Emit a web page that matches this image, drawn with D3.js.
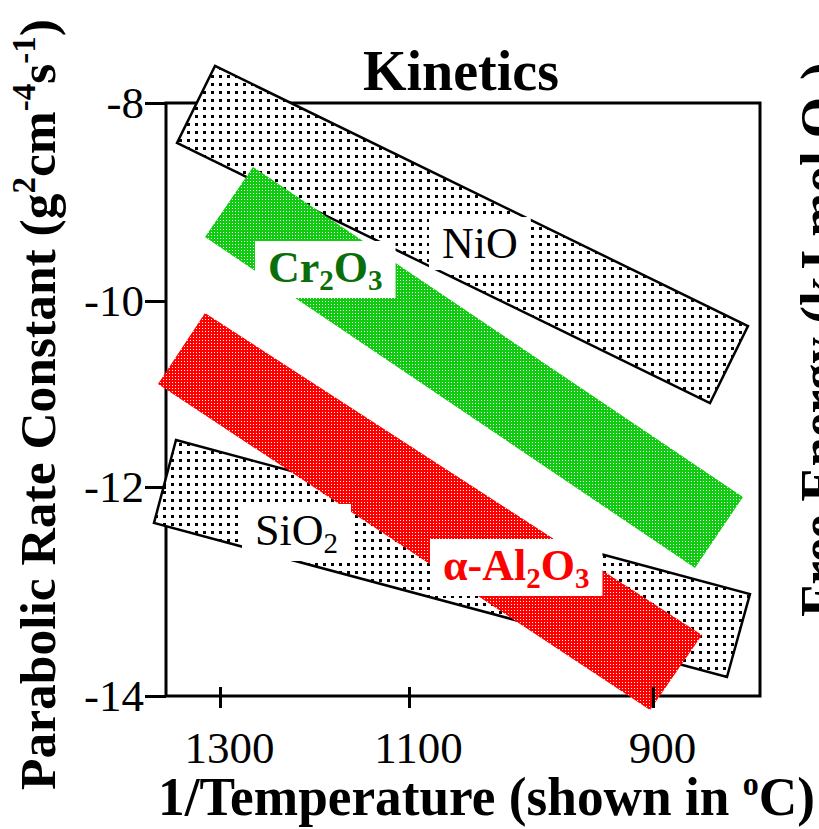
<!DOCTYPE html>
<html><head><meta charset="utf-8">
<script src="https://cdn.jsdelivr.net/npm/d3@7/dist/d3.min.js"></script>
<style>html,body{margin:0;padding:0;background:#fff;overflow:hidden}</style>
</head><body>
<svg id="chart" width="819" height="829"></svg>
<script>
// ---------- data ----------
const xTickTemps = [1300, 1100, 900];          // °C, shown on a 1/T axis
const yTicks = [-14, -12, -10, -8];            // log parabolic rate constant
// band corners: [10^4 / T(K), log kp]
const nioBand   = [[6.3328,-7.626],[9.0085,-10.269],[8.8151,-11.097],[6.1466,-8.404]];
const sio2Band  = [[6.1417,-11.495],[9.0187,-13.024],[8.9016,-13.818],[6.0339,-12.344]];
const cr2o3Band = [[6.5190,-8.646],[8.9830,-12.096],[8.7388,-12.775],[6.2838,-9.354]];
const al2o3Band = [[6.2838,-10.129],[8.7744,-13.416],[8.5098,-14.134],[6.0535,-10.892]];
const labelParts = [
  [["NiO",0]],
  [["Cr",0],["2",1],["O",0],["3",1]],
  [["SiO",0],["2",1]],
  [["α-Al",0],["2",1],["O",0],["3",1]]
];
const labelAt = [[7.4512,-9.566],[6.5925,-9.808],[6.5288,-12.555],[7.4563,-12.890]];
const labelColors = ["#000000","#0a6e0a","#000000","#ff0000"];
const labelBold = [false,true,false,true];

// ---------- setup ----------
const invT = t => 1e4 / (t + 273);
const svg = d3.select("#chart");
const FONT = "'Liberation Serif','Times New Roman',Times,serif";
const frame = {left:166, right:760};
const x = d3.scaleLinear().domain(xTickTemps.map(invT)).range([220, 409, 653]);
const y = d3.scaleLinear().domain(yTicks).range([696, 487, 301, 103]);

const defs = svg.append("defs");
const dots = defs.append("pattern").attr("id","dots").attr("patternUnits","userSpaceOnUse")
  .attr("width",8).attr("height",8);
dots.append("rect").attr("width",8).attr("height",8).attr("fill","#fff");
dots.append("rect").attr("x",3).attr("y",3).attr("width",3).attr("height",3).attr("fill","#000");
function halftone(id, color){
  const p = defs.append("pattern").attr("id",id).attr("patternUnits","userSpaceOnUse")
    .attr("width",3).attr("height",3);
  p.append("rect").attr("width",3).attr("height",3).attr("fill",color);
  p.append("rect").attr("x",1).attr("y",1).attr("width",1).attr("height",1).attr("fill","#fff");
}
halftone("greenHT","#10cc10");
halftone("redHT","#ff0000");

// frame
svg.append("rect").attr("x",frame.left).attr("y",y(-8))
  .attr("width",frame.right-frame.left).attr("height",y(-14)-y(-8))
  .attr("fill","none").attr("stroke","#000").attr("stroke-width",3);

// bands
const line = d3.line().x(d=>x(d[0])).y(d=>y(d[1])).curve(d3.curveLinearClosed);
svg.append("path").attr("d",line(nioBand)).attr("fill","url(#dots)").attr("stroke","#000").attr("stroke-width",2.5);
svg.append("path").attr("d",line(sio2Band)).attr("fill","url(#dots)").attr("stroke","#000").attr("stroke-width",2.5);
svg.append("path").attr("d",line(cr2o3Band)).attr("fill","url(#greenHT)");
svg.append("path").attr("d",line(al2o3Band)).attr("fill","url(#redHT)");

// axes (ticks only; frame drawn beneath)
const xAxis = svg.append("g").attr("transform",`translate(0,${y(-14)})`)
  .call(d3.axisBottom(x).tickValues(xTickTemps.map(invT)).tickFormat((d,i)=>xTickTemps[i]).tickSize(12));
xAxis.select(".domain").remove();
xAxis.selectAll(".tick line").attr("y1",-9).attr("stroke-width",3);
xAxis.selectAll(".tick text").attr("y",67).attr("dy",0).attr("dx",9)
  .attr("font-family",FONT).attr("font-size",45).attr("fill","#000");

const yAxis = svg.append("g").attr("transform",`translate(${frame.left},0)`)
  .call(d3.axisLeft(y).tickValues(yTicks).tickFormat(d=>String(d)).tickSize(21));
yAxis.select(".domain").remove();
yAxis.selectAll(".tick line").attr("stroke-width",3);
yAxis.selectAll(".tick text").attr("x",-22).attr("dy","0.33em")
  .attr("font-family",FONT).attr("font-size",45).attr("fill","#000");

// labels with white boxes
labelParts.forEach((parts,i)=>{
  const g = svg.append("g");
  const t = g.append("text").attr("x",x(labelAt[i][0])).attr("y",y(labelAt[i][1]))
    .attr("font-family",FONT).attr("font-size",44)
    .attr("font-weight",labelBold[i]?"bold":"normal").attr("fill",labelColors[i]);
  let shifted = false;
  parts.forEach(([s,sub])=>{
    const ts = t.append("tspan").text(s);
    if(sub){ ts.attr("font-size",29).attr("dy",8); shifted = true; }
    else if(shifted){ ts.attr("dy",-8); shifted = false; }
  });
  const bb = t.node().getBBox();
  g.insert("rect","text").attr("x",bb.x-13).attr("y",bb.y-2)
    .attr("width",bb.width+26).attr("height",bb.height+4).attr("fill","#fff");
});

// title
svg.append("text").attr("x",461).attr("y",90).attr("text-anchor","middle")
  .attr("font-family",FONT).attr("font-size",56).attr("font-weight","bold").text("Kinetics");

// x title
const xt = svg.append("text").attr("x",158).attr("y",815)
  .attr("font-family",FONT).attr("font-size",55).attr("font-weight","bold")
  .attr("textLength",657).attr("lengthAdjust","spacingAndGlyphs");
xt.append("tspan").text("1/Temperature (shown in ");
xt.append("tspan").attr("font-size",33).attr("dy",-20).text("o");
xt.append("tspan").attr("dy",20).text("C)");

// y title
const yt = svg.append("text").attr("transform","translate(55,790) rotate(-90)")
  .attr("font-family",FONT).attr("font-size",51.5).attr("font-weight","bold");
yt.append("tspan").text("Parabolic Rate Constant (g");
yt.append("tspan").attr("font-size",33).attr("dy",-20).text("2");
yt.append("tspan").attr("dy",20).text("cm");
yt.append("tspan").attr("font-size",33).attr("dy",-20).text("-4");
yt.append("tspan").attr("dy",20).text("s");
yt.append("tspan").attr("font-size",33).attr("dy",-20).text("-1");
yt.append("tspan").attr("dy",20).text(")");

// right title (clipped by page edge)
const rt = svg.append("text").attr("transform","translate(837,617) rotate(-90)")
  .attr("font-family",FONT).attr("font-size",53).attr("font-weight","bold");
rt.append("tspan").text("Free Energy (kJ mol O");
rt.append("tspan").attr("font-size",34).attr("dy",8).text("2");
rt.append("tspan").attr("dy",-8).text(")");
</script>
</body></html>
